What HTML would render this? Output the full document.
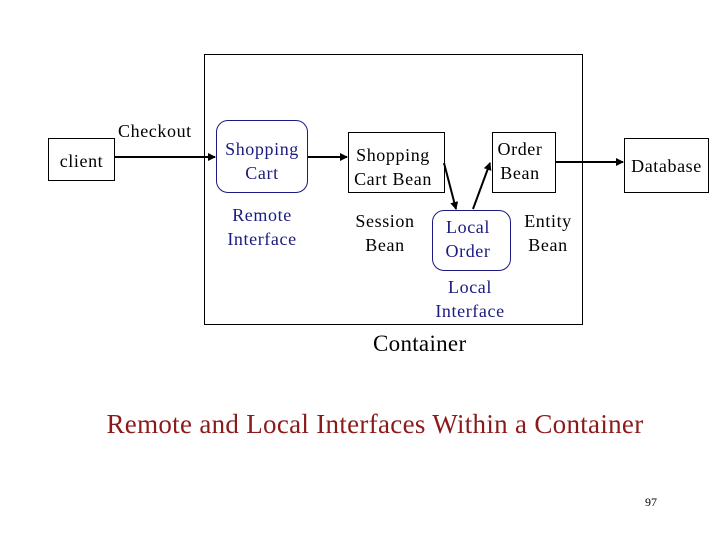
<html><head><style>
body{margin:0;width:720px;height:540px;background:#fff;position:relative;font-family:"Liberation Serif",serif;overflow:hidden}
.t{position:absolute;font-size:18px;letter-spacing:0.6px;text-align:center;line-height:24px;color:#000;white-space:nowrap}
.b{color:#1a1a80}
.bx{position:absolute;border:1px solid #000;box-sizing:border-box}
</style></head><body>
<div class="bx" style="left:204px;top:54px;width:379px;height:271px"></div>
<div class="bx" style="left:48px;top:138px;width:67px;height:43px"></div>
<div class="bx" style="left:216px;top:120px;width:92px;height:73px;border-radius:12px;border-color:#1a1a80"></div>
<div class="bx" style="left:348px;top:132px;width:97px;height:61px"></div>
<div class="bx" style="left:492px;top:132px;width:64px;height:61px"></div>
<div class="bx" style="left:624px;top:138px;width:85px;height:55px"></div>
<div class="bx" style="left:432px;top:210px;width:79px;height:61px;border-radius:12px;border-color:#1a1a80"></div>
<svg width="720" height="540" style="position:absolute;left:0;top:0">
<defs><marker id="a" markerWidth="4" markerHeight="4" refX="3.5" refY="2" orient="auto"><path d="M0,0L4,2L0,4z"/></marker></defs>
<g stroke="#000" stroke-width="2" marker-end="url(#a)">
<line x1="115" y1="157" x2="215" y2="157"/>
<line x1="308" y1="157" x2="347" y2="157"/>
<line x1="556" y1="162" x2="623" y2="162"/>
<line x1="444" y1="163" x2="456" y2="209"/>
<line x1="473" y1="209" x2="490" y2="163"/>
</g></svg>
<div class="t" style="left:118px;top:119px">Checkout</div>
<div class="t" style="left:48px;top:149px;width:67px">client</div>
<div class="t b" style="left:216px;top:137px;width:92px">Shopping<br>Cart</div>
<div class="t b" style="left:216px;top:203px;width:92px">Remote<br>Interface</div>
<div class="t" style="left:348px;top:143px;width:90px">Shopping<br>Cart Bean</div>
<div class="t" style="left:350px;top:209px;width:70px">Session<br>Bean</div>
<div class="t" style="left:492px;top:137px;width:56px">Order<br>Bean</div>
<div class="t" style="left:624px;top:154px;width:85px">Database</div>
<div class="t b" style="left:432px;top:215px;width:72px">Local<br>Order</div>
<div class="t" style="left:515px;top:209px;width:66px">Entity<br>Bean</div>
<div class="t b" style="left:430px;top:275px;width:80px">Local<br>Interface</div>
<div class="t" style="left:373px;top:330px;font-size:23px;line-height:28px;letter-spacing:0.3px">Container</div>
<div class="t" style="left:0;top:408px;width:750px;font-size:27px;line-height:32px;letter-spacing:0.3px;color:#8b1a1a">Remote and Local Interfaces Within a Container</div>
<div class="t" style="left:645px;top:494px;font-size:12px;line-height:16px;letter-spacing:0">97</div>
</body></html>
